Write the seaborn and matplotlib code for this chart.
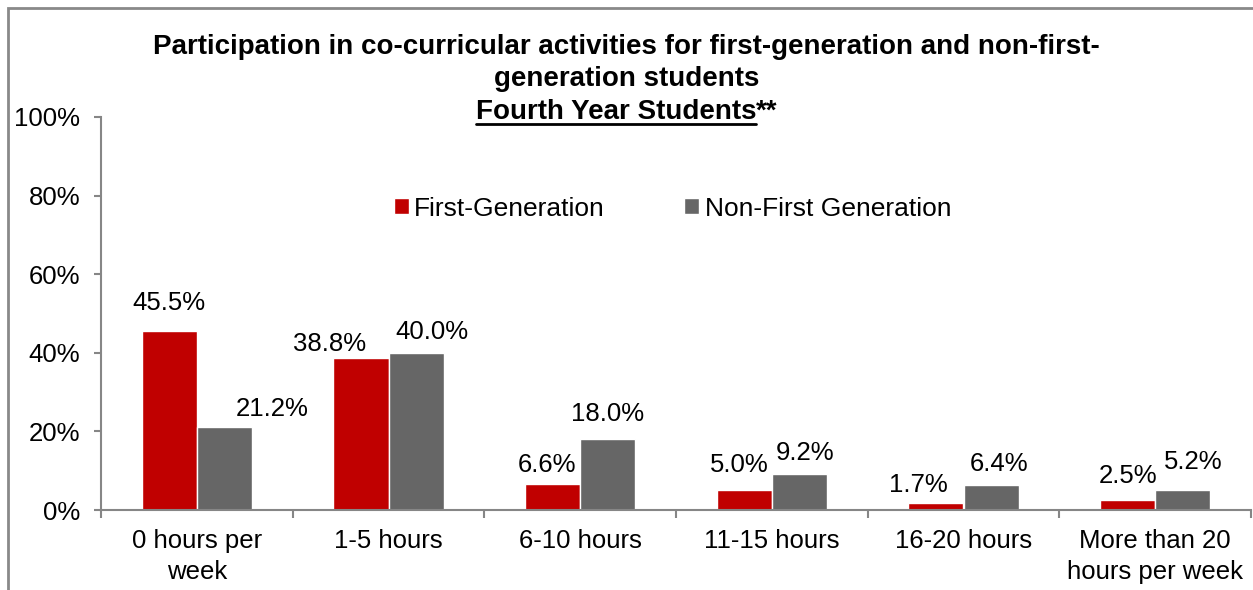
import matplotlib
matplotlib.use("Agg")
import matplotlib.pyplot as plt
import seaborn as sns
import pandas as pd
import numpy as np
from matplotlib.patches import Rectangle

categories = ["0 hours per\nweek", "1-5 hours", "6-10 hours", "11-15 hours",
              "16-20 hours", "More than 20\nhours per week"]
first_gen = [45.5, 38.8, 6.6, 5.0, 1.7, 2.5]
non_first_gen = [21.2, 40.0, 18.0, 9.2, 6.4, 5.2]
series_names = ["First-Generation", "Non-First Generation"]
y_ticks = [0, 20, 40, 60, 80, 100]

# label nudges (pixels) relative to the bar top centre: (dx, dy)
nudge_first = [(0, 16), (-31, 2), (-6, 7), (-5, 13), (-18, 6), (0, 12)]
nudge_non = [(48, 6), (16, 9), (0, 13), (6, 9), (8, 9), (11, 16)]

sns.set_theme(style="white")
plt.rcParams["font.family"] = ["Liberation Sans", "DejaVu Sans"]
plt.rcParams["text.color"] = "black"

df = pd.DataFrame({
    "category": categories * 2,
    "value": first_gen + non_first_gen,
    "series": [series_names[0]] * len(categories) + [series_names[1]] * len(categories),
})

W, H = 1253, 590
fig = plt.figure(figsize=(W / 100, H / 100), dpi=100)
ax = fig.add_axes([101 / W, (H - 510) / H, 1150 / W, 393 / H])

sns.barplot(data=df, x="category", y="value", hue="series", order=categories,
            hue_order=series_names, palette=["#C00000", "#666666"],
            width=0.574, gap=0, dodge=True, ax=ax, saturation=1, legend=True)

ax.set_ylim(0, 100)
ax.set_xlim(-0.5, len(categories) - 0.5)
ax.set_yticks(y_ticks)
ax.set_yticklabels([f"{t}%" for t in y_ticks])
ax.set_xlabel("")
ax.set_ylabel("")

spine_c = "#868686"
for s in ["top", "right"]:
    ax.spines[s].set_visible(False)
for s in ["left", "bottom"]:
    ax.spines[s].set_color(spine_c)
    ax.spines[s].set_linewidth(1.5)

fs = 18.5
ax.tick_params(axis="y", which="major", length=5, width=1.5, color=spine_c,
               direction="out", left=True, labelsize=fs, pad=10, labelcolor="black")
ax.tick_params(axis="x", which="major", length=0, labelsize=fs, pad=14, labelcolor="black")
ax.set_xticks(np.arange(-0.5, len(categories), 1.0), minor=True)
ax.tick_params(axis="x", which="minor", length=6, width=1.5, color=spine_c,
               direction="out", bottom=True)
for lbl in ax.get_xticklabels():
    lbl.set_linespacing(1.35)

# data labels
containers = ax.containers
for cont, vals, nudges in zip(containers, [first_gen, non_first_gen], [nudge_first, nudge_non]):
    for bar, v, (dx, dy) in zip(cont.patches, vals, nudges):
        x = bar.get_x() + bar.get_width() / 2
        y = bar.get_height()
        ax.annotate(f"{v:.1f}%", (x, y), xytext=(dx * 0.72, dy * 0.72),
                    textcoords="offset points", ha="center", va="bottom",
                    fontsize=fs, color="black")

leg = ax.legend(loc="center", bbox_to_anchor=(0.497, 0.767), ncol=2, frameon=False,
                fontsize=19, handlelength=0.55, handleheight=0.55, handletextpad=0.22,
                columnspacing=3.0, borderaxespad=0)
for t in leg.get_texts():
    t.set_color("black")

# title
tfs = 20
fig.text(0.5, (H - 47) / H, "Participation in co-curricular activities for first-generation and non-first-",
         ha="center", va="center", fontsize=tfs, fontweight="bold", color="black")
fig.text(0.5, (H - 79) / H, "generation students", ha="center", va="center",
         fontsize=tfs, fontweight="bold", color="black")
t1 = fig.text(0.5, (H - 112) / H, "Fourth Year Students", ha="right", va="center",
              fontsize=tfs, fontweight="bold", color="black")
t2 = fig.text(0.5, (H - 112) / H, "**", ha="left", va="center", fontsize=tfs,
              fontweight="bold", color="black")
fig.canvas.draw()
w1 = t1.get_window_extent().width
w2 = t2.get_window_extent().width
xsplit = 0.5 + (w1 - (w1 + w2) / 2) / W
t1.set_x(xsplit)
t2.set_x(xsplit)
fig.canvas.draw()
bb = t1.get_window_extent()
fig.add_artist(plt.Line2D([bb.x0 / W, bb.x1 / W], [(bb.y0 + 1) / H, (bb.y0 + 1) / H],
                          color="black", linewidth=2))

# outer frame
fig.add_artist(Rectangle((8 / W, -0.05), 1.2, (H - 8) / H + 0.05, transform=fig.transFigure,
                         fill=False, edgecolor="#898989", linewidth=2))

fig.savefig("out.png", dpi=100)
